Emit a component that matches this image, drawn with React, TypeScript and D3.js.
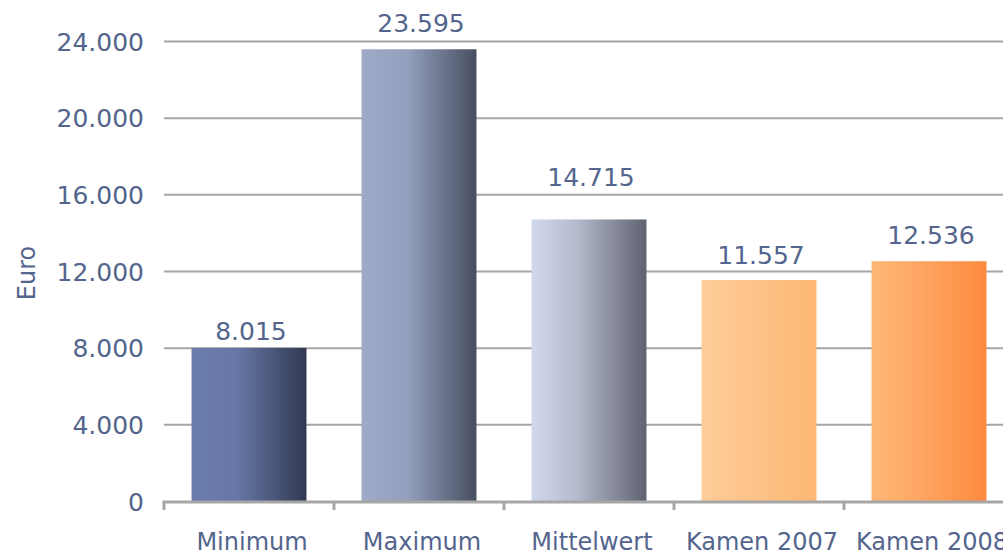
import React from "react";
import * as d3 from "d3";

const categories = ["Minimum", "Maximum", "Mittelwert", "Kamen 2007", "Kamen 2008"];
const values = [8015, 23595, 14715, 11557, 12536];
const yTicks = [0, 4000, 8000, 12000, 16000, 20000, 24000];
const gradStart = ["#6b7daf", "#9eaac8", "#d2d8ef", "#fecc9a", "#feb775"];
const gradMid = ["#6676a5", "#939fbd", "#b4b9cc", "#fdc48a", "#fea764"];
const gradEnd = ["#323a52", "#474e60", "#5f6270", "#fdb874", "#fd8a3f"];
const labelGap = [8, 17, 33, 16, 17];

const W = 1003;
const H = 554;
const TEXT = "#53658d";
const GRID = "#a6a6a6";
const FONT = "'DejaVu Sans', Verdana, sans-serif";

const fmt = (v: number) => d3.format(",")(v).replace(/,/g, ".");

export default function App() {
  const y = d3.scaleLinear().domain([0, 24000]).range([501.5, 41.5]);
  const x = d3.scaleBand<string>().domain(categories).range([164, 1014]).paddingInner(0).paddingOuter(0);
  const bw = x.bandwidth() * 0.676;
  const boundaries = d3.range(categories.length + 1).map((i) => 164 + i * x.step());

  return (
    <svg width={W} height={H} style={{ position: "absolute", left: 0, top: 0, background: "#fff" }} fontFamily={FONT}>
      <defs>
        {categories.map((c, i) => (
          <linearGradient key={c} id={`g${i}`} x1="0" x2="1" y1="0" y2="0">
            <stop offset="0" stopColor={gradStart[i]} />
            <stop offset="0.4" stopColor={gradMid[i]} />
            <stop offset="1" stopColor={gradEnd[i]} />
          </linearGradient>
        ))}
      </defs>
      {yTicks.filter((t) => t > 0).map((t) => (
        <line key={t} x1={164} x2={W} y1={y(t)} y2={y(t)} stroke={GRID} strokeWidth={2} />
      ))}
      {yTicks.map((t) => (
        <text key={t} x={144} y={y(t)} dy="0.37em" textAnchor="end" fontSize={25} fill={TEXT}>
          {fmt(t)}
        </text>
      ))}
      {categories.map((c, i) => {
        const cx = (x(c) as number) + x.bandwidth() / 2;
        return (
          <g key={c}>
            <rect x={cx - bw / 2} width={bw} y={y(values[i])} height={y(0) - y(values[i])} fill={`url(#g${i})`} />
            <text x={cx + 2} y={y(values[i]) - labelGap[i]} textAnchor="middle" fontSize={25} fill={TEXT}>
              {fmt(values[i])}
            </text>
            <text x={cx + 3} y={550} textAnchor="middle" fontSize={24} fill={TEXT}>
              {c}
            </text>
          </g>
        );
      })}
      <line x1={162.5} x2={W} y1={y(0) + 0.5} y2={y(0) + 0.5} stroke={GRID} strokeWidth={3} />
      {boundaries.map((b) => (
        <line key={b} x1={b} x2={b} y1={y(0)} y2={510} stroke={GRID} strokeWidth={3} />
      ))}
      <text transform={`translate(35,273) rotate(-90)`} textAnchor="middle" fontSize={24} fill={TEXT}>
        Euro
      </text>
    </svg>
  );
}
